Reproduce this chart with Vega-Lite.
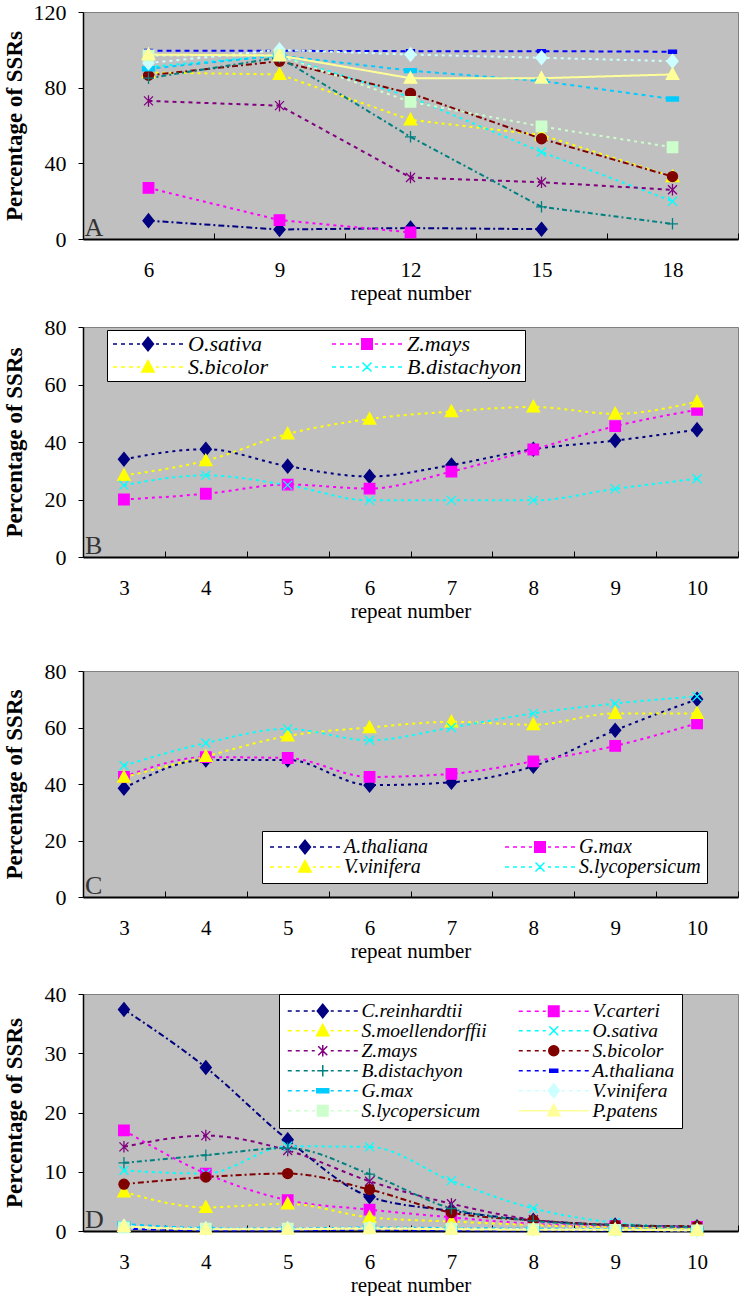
{
  "$schema": "https://vega.github.io/schema/vega-lite/v6.json",
  "padding": {"left": 2, "top": 0, "right": 1, "bottom": 0},
  "background": "white",
  "config": {
    "view": {"fill": "#C0C0C0", "stroke": "#808080", "strokeWidth": 1},
    "axis": {"labelFont": "Liberation Serif", "labelFontSize": 21, "labelColor": "black", "titleFont": "Liberation Serif", "titleFontSize": 21, "titleColor": "black", "domainColor": "black", "tickColor": "black", "grid": false},
    "axisX": {"tickBand": "extent", "labelAngle": 0, "tickSize": -6, "labelPadding": 26, "titlePadding": 2, "domainWidth": 2, "titleFontWeight": "normal"},
    "axisY": {"tickSize": 5, "labelPadding": 12, "labelFontSize": 22, "titleX": -69, "titleBaseline": "middle", "titleFontWeight": "bold", "titleFontSize": 23, "domainWidth": 1.5},
    "legend": {"labelFont": "Liberation Serif", "labelFontStyle": "italic", "labelColor": "black", "fillColor": "white", "strokeColor": "black", "symbolSize": 100, "symbolStrokeWidth": 1.5, "symbolOpacity": 1, "symbolOffset": 27, "labelOffset": 29, "columns": 2, "direction": "horizontal", "orient": "none", "labelLimit": 300}
  },
  "datasets": {
    "A": [
      {"species": "C.reinhardtii", "repeat": 6, "pct": 9.7}, {"species": "C.reinhardtii", "repeat": 9, "pct": 5}, {"species": "C.reinhardtii", "repeat": 12, "pct": 5.8}, {"species": "C.reinhardtii", "repeat": 15, "pct": 5.2},
      {"species": "V.carteri", "repeat": 6, "pct": 27}, {"species": "V.carteri", "repeat": 9, "pct": 10}, {"species": "V.carteri", "repeat": 12, "pct": 3.5},
      {"species": "S.moellendorffii", "repeat": 6, "pct": 88}, {"species": "S.moellendorffii", "repeat": 9, "pct": 87}, {"species": "S.moellendorffii", "repeat": 12, "pct": 63}, {"species": "S.moellendorffii", "repeat": 15, "pct": 55}, {"species": "S.moellendorffii", "repeat": 18, "pct": 33},
      {"species": "O.sativa", "repeat": 6, "pct": 91}, {"species": "O.sativa", "repeat": 9, "pct": 97}, {"species": "O.sativa", "repeat": 12, "pct": 75}, {"species": "O.sativa", "repeat": 15, "pct": 46}, {"species": "O.sativa", "repeat": 18, "pct": 20},
      {"species": "Z.mays", "repeat": 6, "pct": 73}, {"species": "Z.mays", "repeat": 9, "pct": 70.5}, {"species": "Z.mays", "repeat": 12, "pct": 32.5}, {"species": "Z.mays", "repeat": 15, "pct": 30}, {"species": "Z.mays", "repeat": 18, "pct": 26},
      {"species": "S.bicolor", "repeat": 6, "pct": 86.5}, {"species": "S.bicolor", "repeat": 9, "pct": 94}, {"species": "S.bicolor", "repeat": 12, "pct": 77}, {"species": "S.bicolor", "repeat": 15, "pct": 53}, {"species": "S.bicolor", "repeat": 18, "pct": 33},
      {"species": "B.distachyon", "repeat": 6, "pct": 85}, {"species": "B.distachyon", "repeat": 9, "pct": 96}, {"species": "B.distachyon", "repeat": 12, "pct": 54}, {"species": "B.distachyon", "repeat": 15, "pct": 17}, {"species": "B.distachyon", "repeat": 18, "pct": 8},
      {"species": "A.thaliana", "repeat": 6, "pct": 99.5}, {"species": "A.thaliana", "repeat": 9, "pct": 99.5}, {"species": "A.thaliana", "repeat": 12, "pct": 99.3}, {"species": "A.thaliana", "repeat": 15, "pct": 99.3}, {"species": "A.thaliana", "repeat": 18, "pct": 99},
      {"species": "G.max", "repeat": 6, "pct": 90}, {"species": "G.max", "repeat": 9, "pct": 97}, {"species": "G.max", "repeat": 12, "pct": 89}, {"species": "G.max", "repeat": 15, "pct": 83.5}, {"species": "G.max", "repeat": 18, "pct": 74},
      {"species": "V.vinifera", "repeat": 6, "pct": 93}, {"species": "V.vinifera", "repeat": 9, "pct": 100}, {"species": "V.vinifera", "repeat": 12, "pct": 97.5}, {"species": "V.vinifera", "repeat": 15, "pct": 95.8}, {"species": "V.vinifera", "repeat": 18, "pct": 94},
      {"species": "S.lycopersicum", "repeat": 6, "pct": 97}, {"species": "S.lycopersicum", "repeat": 9, "pct": 97}, {"species": "S.lycopersicum", "repeat": 12, "pct": 72.5}, {"species": "S.lycopersicum", "repeat": 15, "pct": 59.5}, {"species": "S.lycopersicum", "repeat": 18, "pct": 48.5},
      {"species": "P.patens", "repeat": 6, "pct": 97.5}, {"species": "P.patens", "repeat": 9, "pct": 97}, {"species": "P.patens", "repeat": 12, "pct": 85}, {"species": "P.patens", "repeat": 15, "pct": 85}, {"species": "P.patens", "repeat": 18, "pct": 87}
    ],
    "B": [
      {"species": "O.sativa", "repeat": 3, "pct": 34}, {"species": "O.sativa", "repeat": 4, "pct": 37.5}, {"species": "O.sativa", "repeat": 5, "pct": 31.6}, {"species": "O.sativa", "repeat": 6, "pct": 28}, {"species": "O.sativa", "repeat": 7, "pct": 32}, {"species": "O.sativa", "repeat": 8, "pct": 37.5}, {"species": "O.sativa", "repeat": 9, "pct": 40.5}, {"species": "O.sativa", "repeat": 10, "pct": 44.3},
      {"species": "Z.mays", "repeat": 3, "pct": 20}, {"species": "Z.mays", "repeat": 4, "pct": 22}, {"species": "Z.mays", "repeat": 5, "pct": 25.2}, {"species": "Z.mays", "repeat": 6, "pct": 23.8}, {"species": "Z.mays", "repeat": 7, "pct": 29.7}, {"species": "Z.mays", "repeat": 8, "pct": 37.4}, {"species": "Z.mays", "repeat": 9, "pct": 45.5}, {"species": "Z.mays", "repeat": 10, "pct": 51.2},
      {"species": "S.bicolor", "repeat": 3, "pct": 28.4}, {"species": "S.bicolor", "repeat": 4, "pct": 33.5}, {"species": "S.bicolor", "repeat": 5, "pct": 42.8}, {"species": "S.bicolor", "repeat": 6, "pct": 48}, {"species": "S.bicolor", "repeat": 7, "pct": 50.6}, {"species": "S.bicolor", "repeat": 8, "pct": 52.2}, {"species": "S.bicolor", "repeat": 9, "pct": 49.8}, {"species": "S.bicolor", "repeat": 10, "pct": 54},
      {"species": "B.distachyon", "repeat": 3, "pct": 25}, {"species": "B.distachyon", "repeat": 4, "pct": 28.4}, {"species": "B.distachyon", "repeat": 5, "pct": 25}, {"species": "B.distachyon", "repeat": 6, "pct": 19.7}, {"species": "B.distachyon", "repeat": 7, "pct": 19.7}, {"species": "B.distachyon", "repeat": 8, "pct": 19.7}, {"species": "B.distachyon", "repeat": 9, "pct": 23.7}, {"species": "B.distachyon", "repeat": 10, "pct": 27.2}
    ],
    "C": [
      {"species": "A.thaliana", "repeat": 3, "pct": 38.5}, {"species": "A.thaliana", "repeat": 4, "pct": 48.5}, {"species": "A.thaliana", "repeat": 5, "pct": 48.5}, {"species": "A.thaliana", "repeat": 6, "pct": 39.6}, {"species": "A.thaliana", "repeat": 7, "pct": 40.6}, {"species": "A.thaliana", "repeat": 8, "pct": 46.3}, {"species": "A.thaliana", "repeat": 9, "pct": 59}, {"species": "A.thaliana", "repeat": 10, "pct": 70},
      {"species": "G.max", "repeat": 3, "pct": 42.5}, {"species": "G.max", "repeat": 4, "pct": 49.5}, {"species": "G.max", "repeat": 5, "pct": 49.2}, {"species": "G.max", "repeat": 6, "pct": 42.5}, {"species": "G.max", "repeat": 7, "pct": 43.6}, {"species": "G.max", "repeat": 8, "pct": 48}, {"species": "G.max", "repeat": 9, "pct": 53.5}, {"species": "G.max", "repeat": 10, "pct": 61.5},
      {"species": "V.vinifera", "repeat": 3, "pct": 42.4}, {"species": "V.vinifera", "repeat": 4, "pct": 49.8}, {"species": "V.vinifera", "repeat": 5, "pct": 57}, {"species": "V.vinifera", "repeat": 6, "pct": 60}, {"species": "V.vinifera", "repeat": 7, "pct": 62}, {"species": "V.vinifera", "repeat": 8, "pct": 61}, {"species": "V.vinifera", "repeat": 9, "pct": 65}, {"species": "V.vinifera", "repeat": 10, "pct": 65},
      {"species": "S.lycopersicum", "repeat": 3, "pct": 46.5}, {"species": "S.lycopersicum", "repeat": 4, "pct": 54.5}, {"species": "S.lycopersicum", "repeat": 5, "pct": 59.5}, {"species": "S.lycopersicum", "repeat": 6, "pct": 55.5}, {"species": "S.lycopersicum", "repeat": 7, "pct": 60}, {"species": "S.lycopersicum", "repeat": 8, "pct": 65}, {"species": "S.lycopersicum", "repeat": 9, "pct": 68.5}, {"species": "S.lycopersicum", "repeat": 10, "pct": 71}
    ],
    "D": [
      {"species": "C.reinhardtii", "repeat": 3, "pct": 37.4}, {"species": "C.reinhardtii", "repeat": 4, "pct": 27.6}, {"species": "C.reinhardtii", "repeat": 5, "pct": 15.4}, {"species": "C.reinhardtii", "repeat": 6, "pct": 5.8}, {"species": "C.reinhardtii", "repeat": 7, "pct": 3.4}, {"species": "C.reinhardtii", "repeat": 8, "pct": 1.8}, {"species": "C.reinhardtii", "repeat": 9, "pct": 1}, {"species": "C.reinhardtii", "repeat": 10, "pct": 0.7},
      {"species": "V.carteri", "repeat": 3, "pct": 17}, {"species": "V.carteri", "repeat": 4, "pct": 9.7}, {"species": "V.carteri", "repeat": 5, "pct": 5.2}, {"species": "V.carteri", "repeat": 6, "pct": 3.6}, {"species": "V.carteri", "repeat": 7, "pct": 2.3}, {"species": "V.carteri", "repeat": 8, "pct": 1.2}, {"species": "V.carteri", "repeat": 9, "pct": 0.8}, {"species": "V.carteri", "repeat": 10, "pct": 0.7},
      {"species": "S.moellendorffii", "repeat": 3, "pct": 6.6}, {"species": "S.moellendorffii", "repeat": 4, "pct": 4}, {"species": "S.moellendorffii", "repeat": 5, "pct": 4.6}, {"species": "S.moellendorffii", "repeat": 6, "pct": 2.3}, {"species": "S.moellendorffii", "repeat": 7, "pct": 1.6}, {"species": "S.moellendorffii", "repeat": 8, "pct": 1}, {"species": "S.moellendorffii", "repeat": 9, "pct": 0.6}, {"species": "S.moellendorffii", "repeat": 10, "pct": 0.4},
      {"species": "O.sativa", "repeat": 3, "pct": 10.2}, {"species": "O.sativa", "repeat": 4, "pct": 9.7}, {"species": "O.sativa", "repeat": 5, "pct": 14.3}, {"species": "O.sativa", "repeat": 6, "pct": 14.2}, {"species": "O.sativa", "repeat": 7, "pct": 8.5}, {"species": "O.sativa", "repeat": 8, "pct": 3.8}, {"species": "O.sativa", "repeat": 9, "pct": 1.4}, {"species": "O.sativa", "repeat": 10, "pct": 0.6},
      {"species": "Z.mays", "repeat": 3, "pct": 14.2}, {"species": "Z.mays", "repeat": 4, "pct": 16.1}, {"species": "Z.mays", "repeat": 5, "pct": 13.6}, {"species": "Z.mays", "repeat": 6, "pct": 8.4}, {"species": "Z.mays", "repeat": 7, "pct": 4.6}, {"species": "Z.mays", "repeat": 8, "pct": 1.9}, {"species": "Z.mays", "repeat": 9, "pct": 1}, {"species": "Z.mays", "repeat": 10, "pct": 0.7},
      {"species": "S.bicolor", "repeat": 3, "pct": 7.9}, {"species": "S.bicolor", "repeat": 4, "pct": 9.1}, {"species": "S.bicolor", "repeat": 5, "pct": 9.7}, {"species": "S.bicolor", "repeat": 6, "pct": 7}, {"species": "S.bicolor", "repeat": 7, "pct": 3.1}, {"species": "S.bicolor", "repeat": 8, "pct": 1.8}, {"species": "S.bicolor", "repeat": 9, "pct": 1}, {"species": "S.bicolor", "repeat": 10, "pct": 0.8},
      {"species": "B.distachyon", "repeat": 3, "pct": 11.5}, {"species": "B.distachyon", "repeat": 4, "pct": 12.8}, {"species": "B.distachyon", "repeat": 5, "pct": 14}, {"species": "B.distachyon", "repeat": 6, "pct": 9.6}, {"species": "B.distachyon", "repeat": 7, "pct": 3.8}, {"species": "B.distachyon", "repeat": 8, "pct": 1.7}, {"species": "B.distachyon", "repeat": 9, "pct": 1}, {"species": "B.distachyon", "repeat": 10, "pct": 0.7},
      {"species": "A.thaliana", "repeat": 3, "pct": 0.4}, {"species": "A.thaliana", "repeat": 4, "pct": 0.1}, {"species": "A.thaliana", "repeat": 5, "pct": 0.1}, {"species": "A.thaliana", "repeat": 6, "pct": 0.2}, {"species": "A.thaliana", "repeat": 7, "pct": 0.1}, {"species": "A.thaliana", "repeat": 8, "pct": 0.1}, {"species": "A.thaliana", "repeat": 9, "pct": 0.1}, {"species": "A.thaliana", "repeat": 10, "pct": 0.1},
      {"species": "G.max", "repeat": 3, "pct": 1.2}, {"species": "G.max", "repeat": 4, "pct": 0.5}, {"species": "G.max", "repeat": 5, "pct": 0.4}, {"species": "G.max", "repeat": 6, "pct": 0.6}, {"species": "G.max", "repeat": 7, "pct": 0.5}, {"species": "G.max", "repeat": 8, "pct": 0.4}, {"species": "G.max", "repeat": 9, "pct": 0.3}, {"species": "G.max", "repeat": 10, "pct": 0.2},
      {"species": "V.vinifera", "repeat": 3, "pct": 0.8}, {"species": "V.vinifera", "repeat": 4, "pct": 0.4}, {"species": "V.vinifera", "repeat": 5, "pct": 0.4}, {"species": "V.vinifera", "repeat": 6, "pct": 0.5}, {"species": "V.vinifera", "repeat": 7, "pct": 0.4}, {"species": "V.vinifera", "repeat": 8, "pct": 0.3}, {"species": "V.vinifera", "repeat": 9, "pct": 0.2}, {"species": "V.vinifera", "repeat": 10, "pct": 0.1},
      {"species": "S.lycopersicum", "repeat": 3, "pct": 0.6}, {"species": "S.lycopersicum", "repeat": 4, "pct": 0.4}, {"species": "S.lycopersicum", "repeat": 5, "pct": 0.4}, {"species": "S.lycopersicum", "repeat": 6, "pct": 0.5}, {"species": "S.lycopersicum", "repeat": 7, "pct": 0.4}, {"species": "S.lycopersicum", "repeat": 8, "pct": 0.3}, {"species": "S.lycopersicum", "repeat": 9, "pct": 0.2}, {"species": "S.lycopersicum", "repeat": 10, "pct": 0.1},
      {"species": "P.patens", "repeat": 3, "pct": 0.8}, {"species": "P.patens", "repeat": 4, "pct": 0.3}, {"species": "P.patens", "repeat": 5, "pct": 0.3}, {"species": "P.patens", "repeat": 6, "pct": 0.4}, {"species": "P.patens", "repeat": 7, "pct": 0.3}, {"species": "P.patens", "repeat": 8, "pct": 0.2}, {"species": "P.patens", "repeat": 9, "pct": 0.2}, {"species": "P.patens", "repeat": 10, "pct": 0.1}
    ]
  },
  "resolve": {"scale": {"stroke": "independent", "fill": "independent", "shape": "independent", "strokeDash": "independent"}},
  "spacing": 37,
  "vconcat": [
    {
      "resolve": {"scale": {"stroke": "independent", "fill": "independent", "shape": "independent", "strokeDash": "independent"}},
      "spacing": 11,
      "vconcat": [
        {
          "width": 655, "height": 227,
          "data": {"name": "A"},
          "layer": [
            {"mark": {"type": "line", "strokeWidth": 2},
             "encoding": {
               "x": {"field": "repeat", "type": "ordinal", "scale": {"type": "band", "paddingInner": 0, "paddingOuter": 0}, "axis": {"title": "repeat number"}},
               "y": {"field": "pct", "type": "quantitative", "scale": {"domain": [0, 120]}, "axis": {"title": "Percentage of SSRs", "values": [0, 20, 40, 60, 80, 100, 120]}},
               "stroke": {"field": "species", "type": "nominal", "scale": {"domain": ["C.reinhardtii","V.carteri","S.moellendorffii","O.sativa","Z.mays","S.bicolor","B.distachyon","A.thaliana","G.max","V.vinifera","S.lycopersicum","P.patens"], "range": ["#000080","#FF00FF","#FFFF00","#00FFFF","#800080","#800000","#008080","#0000FF","#00CCFF","#CCFFFF","#CCFFCC","#FFFF99"]}, "legend": null},
               "strokeDash": {"field": "species", "type": "nominal", "scale": {"domain": ["C.reinhardtii","V.carteri","S.moellendorffii","O.sativa","Z.mays","S.bicolor","B.distachyon","A.thaliana","G.max","V.vinifera","S.lycopersicum","P.patens"], "range": [[6,3,2,3],[3,4],[3,4],[3,4],[4,4],[6,3,2,3],[5,3,2,3],[5,4],[4,4],[3,4],[3,4],[1,0]]}, "legend": null}
             }},
            {"mark": {"type": "point", "filled": true, "size": 100, "strokeWidth": 1.3, "opacity": 1},
             "encoding": {
               "x": {"field": "repeat", "type": "ordinal"},
               "y": {"field": "pct", "type": "quantitative"},
               "stroke": {"field": "species", "type": "nominal", "legend": null},
               "fill": {"field": "species", "type": "nominal", "scale": {"domain": ["C.reinhardtii","V.carteri","S.moellendorffii","O.sativa","Z.mays","S.bicolor","B.distachyon","A.thaliana","G.max","V.vinifera","S.lycopersicum","P.patens"], "range": ["#000080","#FF00FF","#FFFF00","#00FFFF","#800080","#800000","#008080","#0000FF","#00CCFF","#CCFFFF","#CCFFCC","#FFFF99"]}, "legend": null},
               "shape": {"field": "species", "type": "nominal", "scale": {"domain": ["C.reinhardtii","V.carteri","S.moellendorffii","O.sativa","Z.mays","S.bicolor","B.distachyon","A.thaliana","G.max","V.vinifera","S.lycopersicum","P.patens"], "range": ["M0,-1.35L1.1,0L0,1.35L-1.1,0Z","M-1.05,-1.05H1.05V1.05H-1.05Z","M0,-1.3L1.25,1H-1.25Z","M-0.9,-0.9L0.9,0.9M-0.9,0.9L0.9,-0.9","M-0.9,-0.9L0.9,0.9M-0.9,0.9L0.9,-0.9M0,-1.15V1.15","M1,0A1,1,0,1,1,-1,0A1,1,0,1,1,1,0Z","M-1.1,0H1.1M0,-1.15V1.15","M-0.8,-0.3H0.8V0.3H-0.8Z","M-1.2,-0.4H1.2V0.4H-1.2Z","M0,-1.35L1.1,0L0,1.35L-1.1,0Z","M-1.05,-1.05H1.05V1.05H-1.05Z","M0,-1.3L1.25,1H-1.25Z"]}, "legend": null}
             }},
            {"data": {"values": [{"repeat": 6, "pct": 0, "panel": "A"}]},
             "mark": {"type": "text", "align": "left", "baseline": "alphabetic", "dx": -64, "dy": -3, "font": "Liberation Serif", "fontSize": 26, "color": "#333333"},
             "encoding": {"x": {"field": "repeat", "type": "ordinal"}, "y": {"field": "pct", "type": "quantitative"}, "text": {"field": "panel"}}}
          ]
        },
        {
          "width": 655, "height": 230,
          "data": {"name": "B"},
          "resolve": {"scale": {"stroke": "independent", "fill": "independent", "shape": "independent", "strokeDash": "independent"}},
          "layer": [
            {"mark": {"type": "line", "strokeWidth": 2, "interpolate": "monotone"},
             "encoding": {
               "x": {"field": "repeat", "type": "ordinal", "scale": {"type": "band", "paddingInner": 0, "paddingOuter": 0}, "axis": {"title": "repeat number"}},
               "y": {"field": "pct", "type": "quantitative", "scale": {"domain": [0, 80]}, "axis": {"title": "Percentage of SSRs", "values": [0, 20, 40, 60, 80]}},
               "stroke": {"field": "species", "type": "nominal", "scale": {"domain": ["O.sativa","Z.mays","S.bicolor","B.distachyon"], "range": ["#000080","#FF00FF","#FFFF00","#00FFFF"]}, "legend": null},
               "strokeDash": {"field": "species", "type": "nominal", "scale": {"domain": ["O.sativa","Z.mays","S.bicolor","B.distachyon"], "range": [[3,4],[3,4],[3,4],[3,4]]}, "legend": null}
             }},
            {"mark": {"type": "point", "filled": true, "size": 100, "strokeWidth": 1.3, "opacity": 1},
             "encoding": {
               "x": {"field": "repeat", "type": "ordinal"},
               "y": {"field": "pct", "type": "quantitative"},
               "stroke": {"field": "species", "type": "nominal", "scale": {"domain": ["O.sativa","Z.mays","S.bicolor","B.distachyon"], "range": ["#000080","#FF00FF","#FFFF00","#00FFFF"]}, "legend": null},
               "fill": {"field": "species", "type": "nominal", "scale": {"domain": ["O.sativa","Z.mays","S.bicolor","B.distachyon"], "range": ["#000080","#FF00FF","#FFFF00","#00FFFF"]}, "legend": null},
               "shape": {"field": "species", "type": "nominal", "scale": {"domain": ["O.sativa","Z.mays","S.bicolor","B.distachyon"], "range": ["M0,-1.35L1.1,0L0,1.35L-1.1,0Z","M-1.05,-1.05H1.05V1.05H-1.05Z","M0,-1.3L1.25,1H-1.25Z","M-0.9,-0.9L0.9,0.9M-0.9,0.9L0.9,-0.9"]}, "legend": null}
             }},
            {"mark": {"type": "point", "filled": true, "size": 100, "strokeWidth": 1.5, "opacity": 0},
             "encoding": {
               "x": {"field": "repeat", "type": "ordinal"},
               "y": {"field": "pct", "type": "quantitative"},
               "stroke": {"field": "species", "type": "nominal", "scale": {"domain": ["O.sativa","Z.mays","S.bicolor","B.distachyon"], "range": ["#000080","#FF00FF","#FFFF00","#00FFFF"]},
                 "legend": {"legendX": 24, "legendY": 3, "title": null, "padding": 3, "rowPadding": 1, "columnPadding": 60, "labelFontSize": 22, "symbolOpacity": 1}},
               "fill": {"field": "species", "type": "nominal", "scale": {"domain": ["O.sativa","Z.mays","S.bicolor","B.distachyon"], "range": ["#000080","#FF00FF","#FFFF00","#00FFFF"]},
                 "legend": {"legendX": 24, "legendY": 3, "title": null, "padding": 3, "rowPadding": 1, "columnPadding": 60, "labelFontSize": 22, "symbolOpacity": 1}},
               "shape": {"field": "species", "type": "nominal", "scale": {"domain": ["O.sativa","Z.mays","S.bicolor","B.distachyon"], "range": [
                 "M-7,0H-6.2M-5.4,0H-4.6M-3.8,0H-3M-2.2,0H-1.6M1.6,0H2.2M3,0H3.8M4.6,0H5.4M6.2,0H7M0,-1.35L1.1,0L0,1.35L-1.1,0Z",
                 "M-7,0H-6.2M-5.4,0H-4.6M-3.8,0H-3M-2.2,0H-1.6M1.6,0H2.2M3,0H3.8M4.6,0H5.4M6.2,0H7M-1.05,-1.05H1.05V1.05H-1.05Z",
                 "M-7,0H-6.2M-5.4,0H-4.6M-3.8,0H-3M-2.2,0H-1.6M1.6,0H2.2M3,0H3.8M4.6,0H5.4M6.2,0H7M0,-1.3L1.25,1H-1.25Z",
                 "M-7,0H-6.2M-5.4,0H-4.6M-3.8,0H-3M-2.2,0H-1.6M1.6,0H2.2M3,0H3.8M4.6,0H5.4M6.2,0H7M-0.9,-0.9L0.9,0.9M-0.9,0.9L0.9,-0.9"]},
                 "legend": {"legendX": 24, "legendY": 3, "title": null, "padding": 3, "rowPadding": 1, "columnPadding": 60, "labelFontSize": 22, "symbolOpacity": 1}}
             }},
            {"data": {"values": [{"repeat": 3, "pct": 0, "panel": "B"}]},
             "mark": {"type": "text", "align": "left", "baseline": "alphabetic", "dx": -39, "dy": -3, "font": "Liberation Serif", "fontSize": 26, "color": "#333333"},
             "encoding": {"x": {"field": "repeat", "type": "ordinal"}, "y": {"field": "pct", "type": "quantitative"}, "text": {"field": "panel"}}}
          ]
        }
      ]
    },
    {
      "resolve": {"scale": {"stroke": "independent", "fill": "independent", "shape": "independent", "strokeDash": "independent"}},
      "spacing": 20,
      "vconcat": [
        {
          "width": 655, "height": 226,
          "data": {"name": "C"},
          "resolve": {"scale": {"stroke": "independent", "fill": "independent", "shape": "independent", "strokeDash": "independent"}},
          "layer": [
            {"mark": {"type": "line", "strokeWidth": 2, "interpolate": "monotone"},
             "encoding": {
               "x": {"field": "repeat", "type": "ordinal", "scale": {"type": "band", "paddingInner": 0, "paddingOuter": 0}, "axis": {"title": "repeat number"}},
               "y": {"field": "pct", "type": "quantitative", "scale": {"domain": [0, 80]}, "axis": {"title": "Percentage of SSRs", "values": [0, 20, 40, 60, 80]}},
               "stroke": {"field": "species", "type": "nominal", "scale": {"domain": ["A.thaliana","G.max","V.vinifera","S.lycopersicum"], "range": ["#000080","#FF00FF","#FFFF00","#00FFFF"]}, "legend": null},
               "strokeDash": {"field": "species", "type": "nominal", "scale": {"domain": ["A.thaliana","G.max","V.vinifera","S.lycopersicum"], "range": [[3,4],[3,4],[3,4],[3,4]]}, "legend": null}
             }},
            {"mark": {"type": "point", "filled": true, "size": 100, "strokeWidth": 1.3, "opacity": 1},
             "encoding": {
               "x": {"field": "repeat", "type": "ordinal"},
               "y": {"field": "pct", "type": "quantitative"},
               "stroke": {"field": "species", "type": "nominal", "scale": {"domain": ["A.thaliana","G.max","V.vinifera","S.lycopersicum"], "range": ["#000080","#FF00FF","#FFFF00","#00FFFF"]}, "legend": null},
               "fill": {"field": "species", "type": "nominal", "scale": {"domain": ["A.thaliana","G.max","V.vinifera","S.lycopersicum"], "range": ["#000080","#FF00FF","#FFFF00","#00FFFF"]}, "legend": null},
               "shape": {"field": "species", "type": "nominal", "scale": {"domain": ["A.thaliana","G.max","V.vinifera","S.lycopersicum"], "range": ["M0,-1.35L1.1,0L0,1.35L-1.1,0Z","M-1.05,-1.05H1.05V1.05H-1.05Z","M0,-1.3L1.25,1H-1.25Z","M-0.9,-0.9L0.9,0.9M-0.9,0.9L0.9,-0.9"]}, "legend": null}
             }},
            {"mark": {"type": "point", "filled": true, "size": 100, "strokeWidth": 1.5, "opacity": 0},
             "encoding": {
               "x": {"field": "repeat", "type": "ordinal"},
               "y": {"field": "pct", "type": "quantitative"},
               "stroke": {"field": "species", "type": "nominal", "scale": {"domain": ["A.thaliana","G.max","V.vinifera","S.lycopersicum"], "range": ["#000080","#FF00FF","#FFFF00","#00FFFF"]},
                 "legend": {"legendX": 179, "legendY": 160, "title": null, "padding": 6, "rowPadding": 0, "columnPadding": 74, "labelFontSize": 20, "symbolOpacity": 1}},
               "fill": {"field": "species", "type": "nominal", "scale": {"domain": ["A.thaliana","G.max","V.vinifera","S.lycopersicum"], "range": ["#000080","#FF00FF","#FFFF00","#00FFFF"]},
                 "legend": {"legendX": 179, "legendY": 160, "title": null, "padding": 6, "rowPadding": 0, "columnPadding": 74, "labelFontSize": 20, "symbolOpacity": 1}},
               "shape": {"field": "species", "type": "nominal", "scale": {"domain": ["A.thaliana","G.max","V.vinifera","S.lycopersicum"], "range": [
                 "M-7,0H-6.2M-5.4,0H-4.6M-3.8,0H-3M-2.2,0H-1.6M1.6,0H2.2M3,0H3.8M4.6,0H5.4M6.2,0H7M0,-1.35L1.1,0L0,1.35L-1.1,0Z",
                 "M-7,0H-6.2M-5.4,0H-4.6M-3.8,0H-3M-2.2,0H-1.6M1.6,0H2.2M3,0H3.8M4.6,0H5.4M6.2,0H7M-1.05,-1.05H1.05V1.05H-1.05Z",
                 "M-7,0H-6.2M-5.4,0H-4.6M-3.8,0H-3M-2.2,0H-1.6M1.6,0H2.2M3,0H3.8M4.6,0H5.4M6.2,0H7M0,-1.3L1.25,1H-1.25Z",
                 "M-7,0H-6.2M-5.4,0H-4.6M-3.8,0H-3M-2.2,0H-1.6M1.6,0H2.2M3,0H3.8M4.6,0H5.4M6.2,0H7M-0.9,-0.9L0.9,0.9M-0.9,0.9L0.9,-0.9"]},
                 "legend": {"legendX": 179, "legendY": 160, "title": null, "padding": 6, "rowPadding": 0, "columnPadding": 74, "labelFontSize": 20, "symbolOpacity": 1}}
             }},
            {"data": {"values": [{"repeat": 3, "pct": 0, "panel": "C"}]},
             "mark": {"type": "text", "align": "left", "baseline": "alphabetic", "dx": -39, "dy": -3, "font": "Liberation Serif", "fontSize": 26, "color": "#333333"},
             "encoding": {"x": {"field": "repeat", "type": "ordinal"}, "y": {"field": "pct", "type": "quantitative"}, "text": {"field": "panel"}}}
          ]
        },
        {
          "width": 655, "height": 237,
          "data": {"name": "D"},
          "resolve": {"scale": {"stroke": "independent", "fill": "independent", "shape": "independent", "strokeDash": "independent"}},
          "layer": [
            {"mark": {"type": "line", "strokeWidth": 2, "interpolate": "monotone"},
             "encoding": {
               "x": {"field": "repeat", "type": "ordinal", "scale": {"type": "band", "paddingInner": 0, "paddingOuter": 0}, "axis": {"title": "repeat number"}},
               "y": {"field": "pct", "type": "quantitative", "scale": {"domain": [0, 40]}, "axis": {"title": "Percentage of SSRs", "values": [0, 10, 20, 30, 40]}},
               "stroke": {"field": "species", "type": "nominal", "scale": {"domain": ["C.reinhardtii","V.carteri","S.moellendorffii","O.sativa","Z.mays","S.bicolor","B.distachyon","A.thaliana","G.max","V.vinifera","S.lycopersicum","P.patens"], "range": ["#000080","#FF00FF","#FFFF00","#00FFFF","#800080","#800000","#008080","#0000FF","#00CCFF","#CCFFFF","#CCFFCC","#FFFF99"]}, "legend": null},
               "strokeDash": {"field": "species", "type": "nominal", "scale": {"domain": ["C.reinhardtii","V.carteri","S.moellendorffii","O.sativa","Z.mays","S.bicolor","B.distachyon","A.thaliana","G.max","V.vinifera","S.lycopersicum","P.patens"], "range": [[6,3,2,3],[3,4],[3,4],[3,4],[4,4],[6,3,2,3],[5,3,2,3],[5,4],[4,4],[3,4],[3,4],[1,0]]}, "legend": null}
             }},
            {"mark": {"type": "point", "filled": true, "size": 100, "strokeWidth": 1.3, "opacity": 1},
             "encoding": {
               "x": {"field": "repeat", "type": "ordinal"},
               "y": {"field": "pct", "type": "quantitative"},
               "stroke": {"field": "species", "type": "nominal", "scale": {"domain": ["C.reinhardtii","V.carteri","S.moellendorffii","O.sativa","Z.mays","S.bicolor","B.distachyon","A.thaliana","G.max","V.vinifera","S.lycopersicum","P.patens"], "range": ["#000080","#FF00FF","#FFFF00","#00FFFF","#800080","#800000","#008080","#0000FF","#00CCFF","#CCFFFF","#CCFFCC","#FFFF99"]}, "legend": null},
               "fill": {"field": "species", "type": "nominal", "scale": {"domain": ["C.reinhardtii","V.carteri","S.moellendorffii","O.sativa","Z.mays","S.bicolor","B.distachyon","A.thaliana","G.max","V.vinifera","S.lycopersicum","P.patens"], "range": ["#000080","#FF00FF","#FFFF00","#00FFFF","#800080","#800000","#008080","#0000FF","#00CCFF","#CCFFFF","#CCFFCC","#FFFF99"]}, "legend": null},
               "shape": {"field": "species", "type": "nominal", "scale": {"domain": ["C.reinhardtii","V.carteri","S.moellendorffii","O.sativa","Z.mays","S.bicolor","B.distachyon","A.thaliana","G.max","V.vinifera","S.lycopersicum","P.patens"], "range": ["M0,-1.35L1.1,0L0,1.35L-1.1,0Z","M-1.05,-1.05H1.05V1.05H-1.05Z","M0,-1.3L1.25,1H-1.25Z","M-0.9,-0.9L0.9,0.9M-0.9,0.9L0.9,-0.9","M-0.9,-0.9L0.9,0.9M-0.9,0.9L0.9,-0.9M0,-1.15V1.15","M1,0A1,1,0,1,1,-1,0A1,1,0,1,1,1,0Z","M-1.1,0H1.1M0,-1.15V1.15","M-0.8,-0.3H0.8V0.3H-0.8Z","M-1.2,-0.4H1.2V0.4H-1.2Z","M0,-1.35L1.1,0L0,1.35L-1.1,0Z","M-1.05,-1.05H1.05V1.05H-1.05Z","M0,-1.3L1.25,1H-1.25Z"]}, "legend": null}
             }},
            {"mark": {"type": "point", "filled": true, "size": 100, "strokeWidth": 1.5, "opacity": 0},
             "encoding": {
               "x": {"field": "repeat", "type": "ordinal"},
               "y": {"field": "pct", "type": "quantitative"},
               "stroke": {"field": "species", "type": "nominal", "scale": {"domain": ["C.reinhardtii","V.carteri","S.moellendorffii","O.sativa","Z.mays","S.bicolor","B.distachyon","A.thaliana","G.max","V.vinifera","S.lycopersicum","P.patens"], "range": ["#000080","#FF00FF","#FFFF00","#00FFFF","#800080","#800000","#008080","#0000FF","#00CCFF","#CCFFFF","#CCFFCC","#FFFF99"]},
                 "legend": {"legendX": 196, "legendY": 0, "title": null, "padding": 7, "rowPadding": -2, "columnPadding": 28, "labelFontSize": 19.5, "symbolOpacity": 1}},
               "fill": {"field": "species", "type": "nominal", "scale": {"domain": ["C.reinhardtii","V.carteri","S.moellendorffii","O.sativa","Z.mays","S.bicolor","B.distachyon","A.thaliana","G.max","V.vinifera","S.lycopersicum","P.patens"], "range": ["#000080","#FF00FF","#FFFF00","#00FFFF","#800080","#800000","#008080","#0000FF","#00CCFF","#CCFFFF","#CCFFCC","#FFFF99"]},
                 "legend": {"legendX": 196, "legendY": 0, "title": null, "padding": 7, "rowPadding": -2, "columnPadding": 28, "labelFontSize": 19.5, "symbolOpacity": 1}},
               "shape": {"field": "species", "type": "nominal", "scale": {"domain": ["C.reinhardtii","V.carteri","S.moellendorffii","O.sativa","Z.mays","S.bicolor","B.distachyon","A.thaliana","G.max","V.vinifera","S.lycopersicum","P.patens"], "range": [
                 "M-7,0H-6.2M-5.4,0H-4.6M-3.8,0H-3M-2.2,0H-1.6M1.6,0H2.2M3,0H3.8M4.6,0H5.4M6.2,0H7M0,-1.35L1.1,0L0,1.35L-1.1,0Z",
                 "M-7,0H-6.2M-5.4,0H-4.6M-3.8,0H-3M-2.2,0H-1.6M1.6,0H2.2M3,0H3.8M4.6,0H5.4M6.2,0H7M-1.05,-1.05H1.05V1.05H-1.05Z",
                 "M-7,0H-6.2M-5.4,0H-4.6M-3.8,0H-3M-2.2,0H-1.6M1.6,0H2.2M3,0H3.8M4.6,0H5.4M6.2,0H7M0,-1.3L1.25,1H-1.25Z",
                 "M-7,0H-6.2M-5.4,0H-4.6M-3.8,0H-3M-2.2,0H-1.6M1.6,0H2.2M3,0H3.8M4.6,0H5.4M6.2,0H7M-0.9,-0.9L0.9,0.9M-0.9,0.9L0.9,-0.9",
                 "M-7,0H-6.2M-5.4,0H-4.6M-3.8,0H-3M-2.2,0H-1.6M1.6,0H2.2M3,0H3.8M4.6,0H5.4M6.2,0H7M-0.9,-0.9L0.9,0.9M-0.9,0.9L0.9,-0.9M0,-1.15V1.15",
                 "M-7,0H-6.2M-5.4,0H-4.6M-3.8,0H-3M-2.2,0H-1.6M1.6,0H2.2M3,0H3.8M4.6,0H5.4M6.2,0H7M1,0A1,1,0,1,1,-1,0A1,1,0,1,1,1,0Z",
                 "M-7,0H-6.2M-5.4,0H-4.6M-3.8,0H-3M-2.2,0H-1.6M1.6,0H2.2M3,0H3.8M4.6,0H5.4M6.2,0H7M-1.1,0H1.1M0,-1.15V1.15",
                 "M-7,0H-6.2M-5.4,0H-4.6M-3.8,0H-3M-2.2,0H-1.6M1.6,0H2.2M3,0H3.8M4.6,0H5.4M6.2,0H7M-0.8,-0.3H0.8V0.3H-0.8Z",
                 "M-7,0H-6.2M-5.4,0H-4.6M-3.8,0H-3M-2.2,0H-1.6M1.6,0H2.2M3,0H3.8M4.6,0H5.4M6.2,0H7M-1.2,-0.4H1.2V0.4H-1.2Z",
                 "M-7,0H-6.2M-5.4,0H-4.6M-3.8,0H-3M-2.2,0H-1.6M1.6,0H2.2M3,0H3.8M4.6,0H5.4M6.2,0H7M0,-1.35L1.1,0L0,1.35L-1.1,0Z",
                 "M-7,0H-6.2M-5.4,0H-4.6M-3.8,0H-3M-2.2,0H-1.6M1.6,0H2.2M3,0H3.8M4.6,0H5.4M6.2,0H7M-1.05,-1.05H1.05V1.05H-1.05Z",
                 "M-7,0H7M0,-1.3L1.25,1H-1.25Z"]},
                 "legend": {"legendX": 196, "legendY": 0, "title": null, "padding": 7, "rowPadding": -2, "columnPadding": 28, "labelFontSize": 19.5, "symbolOpacity": 1}}
             }},
            {"data": {"values": [{"repeat": 3, "pct": 0, "panel": "D"}]},
             "mark": {"type": "text", "align": "left", "baseline": "alphabetic", "dx": -39, "dy": -3, "font": "Liberation Serif", "fontSize": 26, "color": "#333333"},
             "encoding": {"x": {"field": "repeat", "type": "ordinal"}, "y": {"field": "pct", "type": "quantitative"}, "text": {"field": "panel"}}}
          ]
        }
      ]
    }
  ]
}
